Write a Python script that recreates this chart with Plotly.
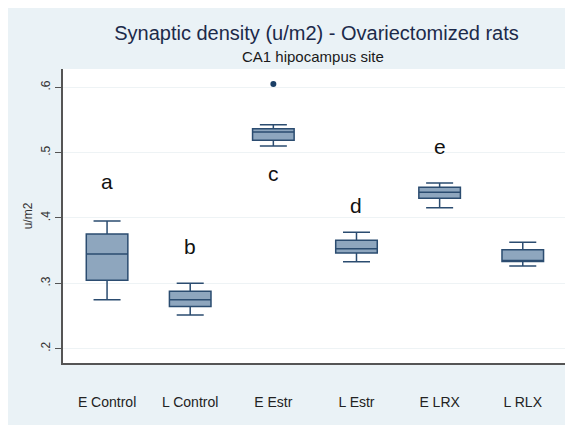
import plotly.graph_objects as go

categories = ["E Control", "L Control", "E Estr", "L Estr", "E LRX", "L RLX"]
lower_whisker = [0.275, 0.2515, 0.510, 0.333, 0.4155, 0.3265]
q1 = [0.3045, 0.2645, 0.519, 0.3465, 0.430, 0.3335]
median = [0.345, 0.275, 0.5315, 0.353, 0.4395, 0.335]
q3 = [0.3755, 0.288, 0.5365, 0.366, 0.447, 0.3515]
upper_whisker = [0.3955, 0.300, 0.5425, 0.378, 0.4535, 0.363]

outlier_cat = ["E Estr"]
outlier_val = [0.605]

letter_cats = ["E Control", "L Control", "E Estr", "L Estr", "E LRX"]
letter_vals = [0.4555, 0.356, 0.468, 0.419, 0.510]
letters = ["a", "b", "c", "d", "e"]

ytick_vals = [0.2, 0.3, 0.4, 0.5, 0.6]
ytick_text = [".2", ".3", ".4", ".5", ".6"]

FONT = "Liberation Sans, Arial, sans-serif"
BOX_FILL = "#8ea6be"
BOX_LINE = "#2b4c70"
NAVY = "#1a3f66"
BG = "#eaf2f6"

W, H = 565, 417
L, R, T, B = 55, 7, 61, 62
PW, PH = W - L - R, H - T - B

fig = go.Figure()
fig.add_trace(go.Box(
    x=categories, q1=q1, median=median, q3=q3,
    lowerfence=lower_whisker, upperfence=upper_whisker,
    fillcolor=BOX_FILL, line=dict(color=BOX_LINE, width=1.5),
    width=0.5, whiskerwidth=0.65, boxpoints=False, showlegend=False,
    hoverinfo="skip",
))
fig.add_trace(go.Scatter(
    x=outlier_cat, y=outlier_val, mode="markers",
    marker=dict(color=NAVY, size=6), showlegend=False, hoverinfo="skip",
))

for c, v, t in zip(letter_cats, letter_vals, letters):
    fig.add_annotation(x=c, y=v, text=t, showarrow=False,
                       font=dict(family=FONT, size=21, color="#111111"))

# subtitle
fig.add_annotation(xref="paper", yref="paper", x=(305 - L) / PW, y=(T + PH - 49) / PH,
                   text="CA1 hipocampus site", showarrow=False,
                   xanchor="center", yanchor="middle",
                   font=dict(family=FONT, size=15, color="#1a1a1a"))

fig.update_layout(
    width=W, height=H,
    margin=dict(l=L, r=R, t=T, b=B, autoexpand=False),
    paper_bgcolor=BG, plot_bgcolor="white",
    title=dict(text="Synaptic density (u/m2) - Ovariectomized rats",
               x=308.5 / W, xanchor="center", y=1 - 25 / H, yanchor="middle",
               font=dict(family=FONT, size=20, color="#1c2a4a")),
    font=dict(family=FONT, color="#333333"),
    xaxis=dict(
        type="category", range=[-0.53, 5.52], automargin=False,
        showgrid=False, zeroline=False,
        showline=True, linecolor="#555555", linewidth=1.5,
        ticks="", tickfont=dict(size=14, color="#222222"),
        ticklabelstandoff=25,
    ),
    yaxis=dict(
        range=[0.178, 0.628], automargin=False,
        tickvals=ytick_vals, ticktext=ytick_text, tickangle=-90,
        ticks="outside", ticklen=6, tickcolor="#555555",
        tickfont=dict(size=12, color="#333333"),
        showgrid=True, gridcolor="#eef3f5", gridwidth=1,
        zeroline=False,
        showline=True, linecolor="#555555", linewidth=1.5,
        title=dict(text="u/m2", font=dict(size=12, color="#333333"), standoff=4),
    ),
)

fig.write_html("out.html")
